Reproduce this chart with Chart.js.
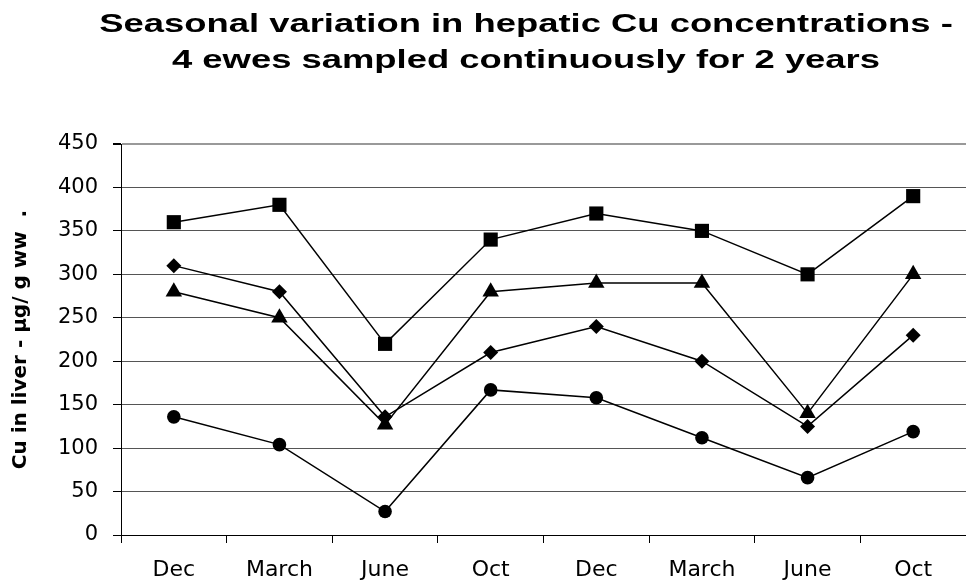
<!DOCTYPE html>
<html>
<head>
<meta charset="utf-8">
<script src="https://cdn.jsdelivr.net/npm/chart.js@4"></script>
<style>
  html, body { margin: 0; padding: 0; background: #fff; }
  #wrap { width: 966px; height: 585px; }
</style>
</head>
<body>
<div id="wrap"><canvas id="chart" width="966" height="585"></canvas></div>
<script>
const months = ["Dec", "March", "June", "Oct", "Dec", "March", "June", "Oct"]
const yTicks = [0, 50, 100, 150, 200, 250, 300, 350, 400, 450]
const titleLines = [
  "Seasonal variation in hepatic Cu concentrations -",
  "4 ewes sampled continuously for 2 years"
]
const yTitle = "Cu in liver - µg/ g ww  ."

// one series per ewe
const eweSquare = [360, 380, 220, 340, 370, 350, 300, 390]
const eweDiamond = [310, 280, 136, 210, 240, 200, 125, 230]
const eweTriangle = [280, 250, 127, 280, 290, 290, 140, 300]
const eweCircle = [136, 104, 27, 167, 158, 112, 66, 119]

function series(label, data, pointStyle, radius) {
  return {
    label,
    data,
    borderColor: "#000",
    borderWidth: 1.5,
    backgroundColor: "#000",
    pointStyle,
    pointRadius: radius,
    pointHoverRadius: radius,
    pointBackgroundColor: "#000",
    pointBorderColor: "#000",
    pointBorderWidth: 0,
    tension: 0
  }
}

// title in the reference is wider than the font draws, so stretch it sideways
const stretchedTitle = {
  id: "stretchedTitle",
  afterDraw(chart) {
    const ctx = chart.ctx
    ctx.save()
    ctx.font = "bold 26px 'Liberation Sans', Arial, sans-serif"
    ctx.fillStyle = "#000"
    ctx.textAlign = "center"
    ctx.textBaseline = "alphabetic"
    ctx.translate(526, 0)
    ctx.scale(1.4, 1)
    ctx.fillText(titleLines[0], 0, 32)
    ctx.fillText(titleLines[1], 0, 68)
    ctx.restore()
  }
}

new Chart(document.getElementById("chart"), {
  type: "line",
  data: {
    labels: months,
    datasets: [
      series("Ewe 1", eweSquare, "rect", 10),
      series("Ewe 2", eweDiamond, "rectRot", 7.5),
      series("Ewe 3", eweTriangle, "triangle", 9.5),
      series("Ewe 4", eweCircle, "circle", 6.8)
    ]
  },
  options: {
    responsive: false,
    animation: false,
    devicePixelRatio: 1,
    layout: {
      autoPadding: false,
      padding: { top: 144, left: 0, right: 0, bottom: 0 }
    },
    plugins: {
      legend: { display: false },
      tooltip: { enabled: false },
      title: { display: false }
    },
    scales: {
      x: {
        offset: true,
        grid: {
          offset: true,
          drawOnChartArea: false,
          drawTicks: true,
          tickLength: 8,
          tickColor: "#000"
        },
        border: { display: true, color: "#000", width: 1 },
        ticks: {
          color: "#000",
          padding: 14,
          maxRotation: 0,
          font: { family: "'DejaVu Sans', sans-serif", size: 22 }
        },
        afterFit(scale) {
          scale.height = 50
          scale.paddingLeft = 0
          scale.paddingRight = 0
        }
      },
      y: {
        min: 0,
        max: 450,
        afterBuildTicks(scale) { scale.ticks = yTicks.map(v => ({ value: v })) },
        grid: {
          color: ctx => (ctx.tick && ctx.tick.value === 450 ? "#999" : "#555"),
          lineWidth: ctx => (ctx.tick && ctx.tick.value === 450 ? 2 : 1),
          tickLength: 8,
          tickColor: "#000"
        },
        border: { display: true, color: "#000", width: 1 },
        ticks: {
          color: "#000",
          padding: 15,
          font: { family: "'DejaVu Sans', sans-serif", size: 21 }
        },
        title: {
          display: true,
          text: yTitle,
          color: "#000",
          padding: { top: 9, bottom: 0 },
          font: { family: "'DejaVu Sans', sans-serif", size: 20, weight: "bold" }
        },
        afterFit(scale) { scale.width = 121 }
      }
    }
  },
  plugins: [stretchedTitle]
})
</script>
</body>
</html>
